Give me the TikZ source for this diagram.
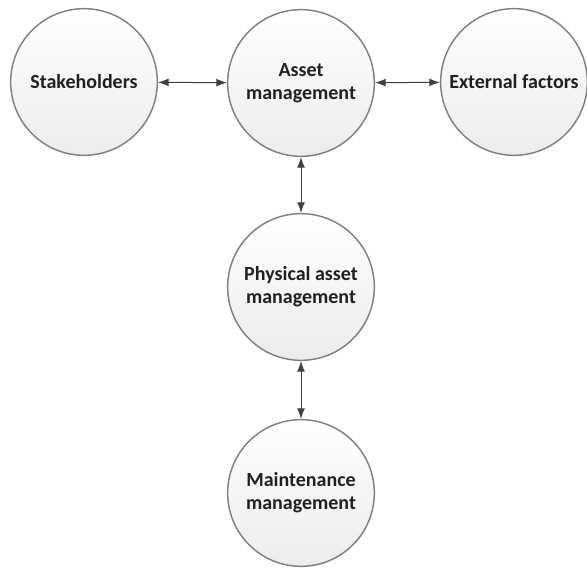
\documentclass[tikz,border=0pt]{standalone}
\usepackage{fontspec}
\setmainfont{Carlito}
\usetikzlibrary{arrows.meta}

\definecolor{rimgray}{RGB}{128,128,128}
\definecolor{fillgray}{RGB}{236,236,236}
\definecolor{arrowgray}{RGB}{64,64,64}
\definecolor{textgray}{RGB}{32,32,32}

\tikzset{
  bubble/.style={circle, draw=rimgray, line width=1.1pt, minimum size=110pt, inner sep=0pt,
    top color=white, bottom color=fillgray, align=center, text=textgray,
    font=\bfseries\fontsize{15}{17.5}\selectfont},
  link/.style={draw=arrowgray, line width=0.75pt,
    {Latex[length=8pt,width=6pt]}-{Latex[length=8pt,width=6pt]}}
}

\begin{document}
\begin{tikzpicture}[x=0.75pt,y=0.75pt,yscale=-1,xscale=1]
\useasboundingbox (0,0) rectangle (587,568);

%Shape: Circle [id:asset]
\node [bubble] (asset) at (301,83) {Asset\\management};
%Shape: Circle [id:stake]
\node [bubble] (stake) at (84,82) {Stakeholders};
%Shape: Circle [id:extern]
\node [bubble] (extern) at (514,82) {External factors};
%Shape: Circle [id:physical]
\node [bubble] (physical) at (301,287) {Physical asset\\management};
%Shape: Circle [id:maint]
\node [bubble] (maint) at (301,493) {Maintenance\\management};

%Straight Lines
\draw [link] (stake) -- (asset);
\draw [link] (asset) -- (extern);
\draw [link] (asset) -- (physical);
\draw [link] (physical) -- (maint);

\end{tikzpicture}
\end{document}
